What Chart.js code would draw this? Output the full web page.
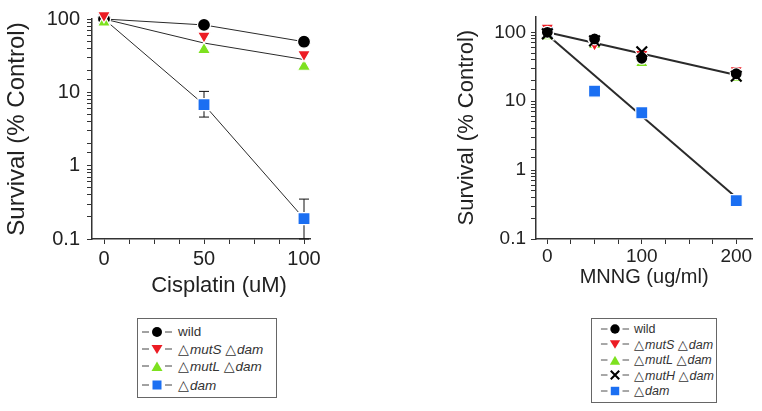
<!DOCTYPE html>
<html>
<head>
<meta charset="utf-8">
<script src="https://cdn.jsdelivr.net/npm/chart.js@4.4.1/dist/chart.umd.min.js"></script>
<style>
  body { margin: 0; width: 762px; height: 411px; background: #fff; position: relative; overflow: hidden;
         font-family: "Liberation Sans", Arial, sans-serif; }
  .panel { position: absolute; top: 0; }
  #leftWrap { left: 0; }
  #rightWrap { left: 440px; }
  .legend { position: absolute; border: 1px solid #666; box-sizing: border-box; color: #333; }
  .legend .row { display: flex; align-items: center; white-space: nowrap; }
  .legend svg { flex: none; }
  .legend .tri { font-family: "DejaVu Sans", sans-serif; font-size: 1.05em; margin-right: 1px; }
  #leftLegend { left: 137px; top: 318px; width: 140px; height: 80px; padding: 4px 0 0 2px; font-size: 13.5px; }
  #leftLegend .row { height: 17px; }
  #leftLegend .row:last-child { margin-top: 2px; }
  #rightLegend { left: 591px; top: 318px; width: 126px; height: 85px; padding: 2px 0 0 8px; font-size: 12.5px; }
  #rightLegend .row { height: 15.5px; }
</style>
</head>
<body>
<div class="panel" id="leftWrap"><canvas id="cisChart" width="330" height="310"></canvas></div>
<div class="panel" id="rightWrap"><canvas id="mnngChart" width="322" height="310"></canvas></div>
<div class="legend" id="leftLegend"></div>
<div class="legend" id="rightLegend"></div>
<script>
// ---- data ----
const yTickLabels = [0.1, 1, 10, 100];

// cisplatin panel
const cisDose = [0, 50, 100];
const cisDoseLabels = [0, 50, 100];
const cisWild = [100, 83, 49];
const cisMutS = [112, 59, 33];
const cisMutL = [90, 38, 22.5];
const cisDam = [100, 6.8, 0.19];
const cisDamErrLow = [null, 4.6, 0.1];
const cisDamErrHigh = [null, 10.3, 0.35];
const cisMutLine = [100, 47, 28]; // the single line drawn between mutS and mutL
const cisNames = ['wild', '△mutS △dam', '△mutL △dam', '△dam'];

// MNNG panel
const mnngDose = [0, 50, 100, 200];
const mnngDoseLabels = [0, 100, 200];
const mnngWild = [100, 80, 42, 25];
const mnngMutS = [116, 68, 48, 28];
const mnngMutL = [88, 66, 36, 22];
const mnngMutH = [95, 75, 52, 23];
const mnngDam = [100, 14, 6.8, 0.36];
const mnngFitDose = [0, 200];
const mnngFitRepair = [100, 24];
const mnngFitDam = [92, 0.4];
const mnngNames = ['wild', '△mutS △dam', '△mutL △dam', '△mutH △dam', '△dam'];

const FONT = '"Liberation Sans", Arial, sans-serif';
const RED = '#ec1c24', GREEN = '#7de11f', BLUE = '#1b6ff2', BLACK = '#000';
Chart.defaults.font.family = FONT;
Chart.defaults.color = '#222';

function pts(xs, ys) {
    return xs.map((x, i) => ({ x, y: ys[i] })).filter(p => p.y != null);
}

function markers(label, xs, ys, style, color, radius, order) {
    const cross = style === 'crossRot';
    return {
        label, data: pts(xs, ys), showLine: false, order, clip: false,
        pointStyle: style === 'triangleDown' ? 'triangle' : style,
        pointRotation: style === 'triangleDown' ? 180 : 0,
        pointRadius: radius, pointHoverRadius: radius,
        pointBackgroundColor: color,
        pointBorderColor: cross ? color : '#fff',
        pointBorderWidth: cross ? 2.2 : 1.2
    };
}

function line(xs, ys, width) {
    return { label: '', data: pts(xs, ys), showLine: true, pointRadius: 0, borderColor: '#2a2a2a',
             borderWidth: width, order: 50, clip: false };
}

function pickLabel(v, list) {
    const hit = list.find(t => Math.abs(t - v) <= Math.abs(t) * 1e-6 + 1e-9);
    return hit === undefined ? '' : String(hit);
}

function logAxis(max, size, titleSize, titlePad, labelPad, width) {
    return {
        type: 'logarithmic', min: 0.1, max,
        border: { color: '#333', width: 1.5 },
        grid: { drawOnChartArea: false, tickLength: 5, tickColor: '#333', tickWidth: 1 },
        ticks: { autoSkip: false, padding: labelPad, font: { size }, color: '#222',
                 callback: v => pickLabel(v, yTickLabels) },
        afterBuildTicks: s => { s.ticks = s.ticks.filter(t => t.value <= 100.0001); },
        title: { display: true, text: 'Survival (% Control)', font: { size: titleSize }, color: '#222',
                 padding: { top: titlePad, bottom: 0 } },
        afterFit: s => { s.width = width; }
    };
}

function doseAxis(min, max, step, labels, size, labelPad, height, title) {
    return {
        type: 'linear', min, max,
        border: { color: '#333', width: 1.5 },
        grid: { drawOnChartArea: false, tickLength: 5, tickColor: '#333', tickWidth: 1 },
        ticks: { stepSize: step, includeBounds: false, autoSkip: false, maxRotation: 0, padding: labelPad,
                 font: { size }, color: '#222', callback: v => pickLabel(v, labels) },
        title: title || { display: false },
        afterFit: s => { s.height = height; }
    };
}

// error bars drawn under the markers
const errorBars = {
    id: 'errorBars',
    beforeDatasetsDraw(chart, args, o) {
        if (!o.low) return;
        const { ctx, scales: { x, y } } = chart;
        ctx.save();
        ctx.strokeStyle = '#111';
        ctx.lineWidth = 1;
        o.low.forEach((lo, i) => {
            if (lo == null) return;
            const px = x.getPixelForValue(o.xs[i]);
            const y1 = y.getPixelForValue(lo), y2 = y.getPixelForValue(o.high[i]);
            ctx.beginPath();
            ctx.moveTo(px, y1); ctx.lineTo(px, y2);
            ctx.moveTo(px - 5, y1); ctx.lineTo(px + 5, y1);
            ctx.moveTo(px - 5, y2); ctx.lineTo(px + 5, y2);
            ctx.stroke();
        });
        ctx.restore();
    }
};

// x title that is not centred on the axis
const caption = {
    id: 'caption',
    afterDraw(chart, args, o) {
        if (!o.text) return;
        const { ctx, chartArea } = chart;
        ctx.save();
        ctx.font = o.size + 'px ' + FONT;
        ctx.fillStyle = '#222';
        ctx.textAlign = 'center';
        ctx.textBaseline = 'middle';
        ctx.fillText(o.text, (chartArea.left + chartArea.right) / 2 + o.dx, o.y);
        ctx.restore();
    }
};

const common = {
    responsive: false,
    animation: false,
    events: [],
    plugins: { legend: { display: false }, tooltip: { enabled: false } }
};

new Chart(document.getElementById('cisChart'), {
    type: 'scatter',
    data: {
        datasets: [
            markers(cisNames[1], cisDose, cisMutS, 'triangleDown', RED, 7.5, 1),
            markers(cisNames[2], cisDose, cisMutL, 'triangle', GREEN, 7.5, 2),
            markers(cisNames[0], cisDose, cisWild, 'circle', BLACK, 6.5, 3),
            markers(cisNames[3], cisDose, cisDam, 'rect', BLUE, 8.5, 4),
            line(cisDose, cisWild, 1),
            line(cisDose, cisMutLine, 1),
            line(cisDose, cisDam, 1)
        ]
    },
    options: {
        ...common,
        layout: { padding: { top: 15, right: 20, bottom: 0, left: 0 } },
        scales: {
            x: doseAxis(-6, 103, 12.5, cisDoseLabels, 20, 3, 71),
            y: logAxis(100, 20, 24, 3, 7, 92)
        },
        plugins: {
            ...common.plugins,
            errorBars: { xs: cisDose, low: cisDamErrLow, high: cisDamErrHigh },
            caption: { text: 'Cisplatin (uM)', size: 22, dx: 18, y: 286 }
        }
    },
    plugins: [errorBars, caption]
});

new Chart(document.getElementById('mnngChart'), {
    type: 'scatter',
    data: {
        datasets: [
            markers(mnngNames[3], mnngDose, mnngMutH, 'crossRot', BLACK, 7.5, 1),
            markers(mnngNames[0], mnngDose, mnngWild, 'circle', BLACK, 6, 2),
            markers(mnngNames[1], mnngDose, mnngMutS, 'triangleDown', RED, 7.5, 3),
            markers(mnngNames[2], mnngDose, mnngMutL, 'triangle', GREEN, 7.5, 4),
            markers(mnngNames[4], mnngDose, mnngDam, 'rect', BLUE, 8.5, 5),
            line(mnngFitDose, mnngFitRepair, 2),
            line(mnngFitDose, mnngFitDam, 2)
        ]
    },
    options: {
        ...common,
        layout: { padding: { top: 13, right: 9, bottom: 0, left: 0 } },
        scales: {
            x: doseAxis(-12, 217, 25, mnngDoseLabels, 19, 1, 71, {
                display: true, text: 'MNNG (ug/ml)', font: { size: 20 }, color: '#222',
                padding: { top: 0, bottom: 21 }
            }),
            y: logAxis(170, 19, 22, 14, 5, 96)
        }
    }
});

// ---- legends ----
const shapes = {
    circle: c => `<circle cx="16" cy="7" r="5" fill="${c}"/>`,
    triangleDown: c => `<polygon points="10.5,3 21.5,3 16,12" fill="${c}"/>`,
    triangle: c => `<polygon points="10.5,12 21.5,12 16,2.5" fill="${c}"/>`,
    crossRot: c => `<path d="M11.5 2.5 L20.5 11.5 M20.5 2.5 L11.5 11.5" stroke="${c}" stroke-width="2.2"/>`,
    rect: c => `<rect x="11.5" y="2.5" width="9" height="9" fill="${c}"/>`
};

function legendRows(el, names, styles, colors, w) {
    el.innerHTML = names.map((n, i) => {
        const svg = `<svg width="${w}" height="14" viewBox="0 0 32 14">` +
            `<path d="M1 7 H8 M24 7 H31" stroke="#444" stroke-width="1"/>` + shapes[styles[i]](colors[i]) + `</svg>`;
        const text = n.replace(/△(\w+)/g, '<span class="tri">△</span><i>$1</i>');
        return `<div class="row">${svg}<span style="margin-left:4px">${text}</span></div>`;
    }).join('');
}

legendRows(document.getElementById('leftLegend'), cisNames,
    ['circle', 'triangleDown', 'triangle', 'rect'], [BLACK, RED, GREEN, BLUE], 34);
legendRows(document.getElementById('rightLegend'), mnngNames,
    ['circle', 'triangleDown', 'triangle', 'crossRot', 'rect'], [BLACK, RED, GREEN, BLACK, BLUE], 30);
</script>
</body>
</html>
